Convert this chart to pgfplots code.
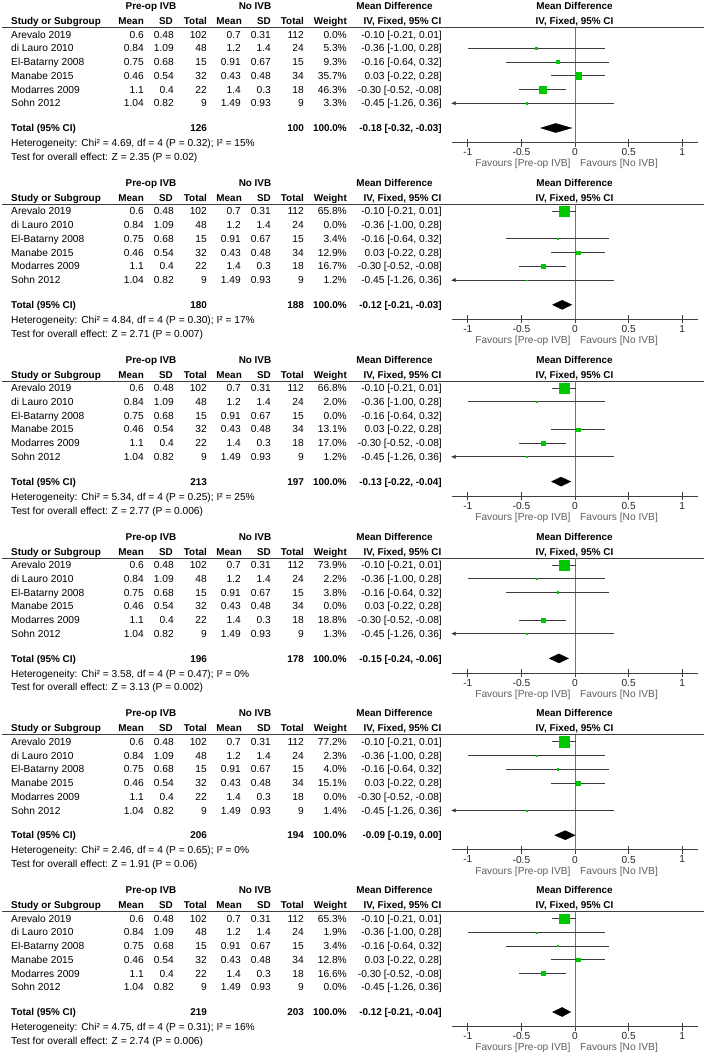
\documentclass[border=0pt]{standalone}
\usepackage{fontspec}
\setmainfont{Liberation Sans}
\usepackage{pgfplots}
\pgfplotsset{compat=1.18}
\usepackage{pgfplotstable}
\usetikzlibrary{arrows.meta}

\definecolor{sqgreen}{RGB}{0,200,0}
\definecolor{cigray}{RGB}{60,60,60}
\definecolor{favgray}{RGB}{95,95,95}

% included studies per panel: row position (px below panel top), MD, CI, weight
\pgfplotstableread{
y md lo hi w
-48.25 -0.36 -1.00 0.28 5.3
-62 -0.16 -0.64 0.32 9.3
-75.75 0.03 -0.22 0.28 35.7
-89.5 -0.30 -0.52 -0.08 46.3
-103.25 -0.45 -1.26 0.36 3.3
}\pA
\pgfplotstableread{
y md lo hi w
-34.5 -0.10 -0.21 0.01 65.8
-62 -0.16 -0.64 0.32 3.4
-75.75 0.03 -0.22 0.28 12.9
-89.5 -0.30 -0.52 -0.08 16.7
-103.25 -0.45 -1.26 0.36 1.2
}\pB
\pgfplotstableread{
y md lo hi w
-34.5 -0.10 -0.21 0.01 66.8
-48.25 -0.36 -1.00 0.28 2.0
-75.75 0.03 -0.22 0.28 13.1
-89.5 -0.30 -0.52 -0.08 17.0
-103.25 -0.45 -1.26 0.36 1.2
}\pC
\pgfplotstableread{
y md lo hi w
-34.5 -0.10 -0.21 0.01 73.9
-48.25 -0.36 -1.00 0.28 2.2
-62 -0.16 -0.64 0.32 3.8
-89.5 -0.30 -0.52 -0.08 18.8
-103.25 -0.45 -1.26 0.36 1.3
}\pD
\pgfplotstableread{
y md lo hi w
-34.5 -0.10 -0.21 0.01 77.2
-48.25 -0.36 -1.00 0.28 2.3
-62 -0.16 -0.64 0.32 4.0
-75.75 0.03 -0.22 0.28 15.1
-103.25 -0.45 -1.26 0.36 1.4
}\pE
\pgfplotstableread{
y md lo hi w
-34.5 -0.10 -0.21 0.01 65.3
-48.25 -0.36 -1.00 0.28 1.9
-62 -0.16 -0.64 0.32 3.4
-75.75 0.03 -0.22 0.28 12.8
-89.5 -0.30 -0.52 -0.08 16.6
}\pF

\pgfplotsset{
  forest/.style={anchor=south west, scale only axis, width=246.6pt, height=115pt,
    xmin=-1.15, xmax=1.15, ymin=-142.5, ymax=-27.5,
    axis x line*=bottom, axis y line=none, ytick=\empty,
    xtick={-1,-0.5,0,0.5,1}, xticklabels={-1,-0.5,0,0.5,1},
    tick align=center, major tick length=8pt,
    axis line style={black!75, line width=0.8pt},
    every tick/.style={black!75, line width=0.8pt},
    xticklabel style={inner sep=0pt, anchor=north, yshift=-2pt, text=black!85}},
  zero/.style={black!55, line width=0.8pt},
  ci/.style={draw=none, no markers, error bars/.cd, x dir=both, x explicit,
    error mark=none, error bar style={draw=cigray, line width=0.8pt}},
  sq/.style={scatter, only marks, mark=square*,
    scatter/use mapped color={draw=sqgreen, fill=sqgreen},
    visualization depends on={0.31*pow(\thisrow{w},0.65) \as \hs},
    scatter/@pre marker code/.append style={/tikz/mark size=\hs pt}},
  arr/.style={cigray, line width=0.8pt, -{Triangle[length=4pt,width=4pt]}},
  dia/.style={fill=black, draw=black, line width=0.3pt},
}

\tikzset{t/.style={inner sep=0pt},
  hb/.style={inner sep=0pt, font=\fontsize{9.9pt}{12pt}\selectfont\bfseries}}

% #1 offset, #2 weights, #3 N pre-op, #4 N no IVB, #5 total MD, #6 heterogeneity, #7 overall test
\newcommand{\panel}[7]{%
\begin{scope}[x=1pt, y=-1pt, shift={(0,#1)}]
  \node[hb, anchor=base] at (151,9.6) {Pre-op IVB};
  \node[hb, anchor=base] at (255,9.6) {No IVB};
  \node[hb, anchor=base] at (394.5,9.6) {Mean Difference};
  \node[hb, anchor=base] at (574.5,9.6) {Mean Difference};
  \node[hb, anchor=base west] at (11,24.6) {Study or Subgroup};
  \node[hb, anchor=base east] at (144,24.6) {Mean};
  \node[hb, anchor=base east] at (173,24.6) {SD};
  \node[hb, anchor=base east] at (207,24.6) {Total};
  \node[hb, anchor=base east] at (242,24.6) {Mean};
  \node[hb, anchor=base east] at (271,24.6) {SD};
  \node[hb, anchor=base east] at (304,24.6) {Total};
  \node[hb, anchor=base east] at (347,24.6) {Weight};
  \node[hb, anchor=base] at (402.5,24.6) {IV, Fixed, 95\% CI};
  \node[hb, anchor=base] at (574.5,24.6) {IV, Fixed, 95\% CI};
  \draw[black!75, line width=0.8pt] (2,27.5) -- (704,27.5);
  \foreach \nm/\ma/\sa/\na/\mb/\sb/\nb/\md [count=\i from 0] in {
    Arevalo 2019/0.6/0.48/102/0.7/0.31/112/{-0.10 [-0.21, 0.01]},
    di Lauro 2010/0.84/1.09/48/1.2/1.4/24/{-0.36 [-1.00, 0.28]},
    El-Batarny 2008/0.75/0.68/15/0.91/0.67/15/{-0.16 [-0.64, 0.32]},
    Manabe 2015/0.46/0.54/32/0.43/0.48/34/{0.03 [-0.22, 0.28]},
    Modarres 2009/1.1/0.4/22/1.4/0.3/18/{-0.30 [-0.52, -0.08]},
    Sohn 2012/1.04/0.82/9/1.49/0.93/9/{-0.45 [-1.26, 0.36]}}{
    \pgfmathsetmacro\yy{38.1+13.75*\i}
    \node[t, anchor=base west] at (11,\yy) {\nm};
    \node[t, anchor=base east] at (144,\yy) {\ma};
    \node[t, anchor=base east] at (174,\yy) {\sa};
    \node[t, anchor=base east] at (207,\yy) {\na};
    \node[t, anchor=base east] at (241,\yy) {\mb};
    \node[t, anchor=base east] at (271,\yy) {\sb};
    \node[t, anchor=base east] at (304,\yy) {\nb};
    \node[t, anchor=base east] at (442,\yy) {\md};
  }
  \foreach \w [count=\i from 0] in {#2}{
    \pgfmathsetmacro\yy{38.1+13.75*\i}
    \node[t, anchor=base east] at (347,\yy) {\w\%};
  }
  \node[hb, anchor=base west] at (11,131.6) {Total (95\% CI)};
  \node[hb, anchor=base east] at (207,131.6) {#3};
  \node[hb, anchor=base east] at (304,131.6) {#4};
  \node[hb, anchor=base east] at (347,131.6) {100.0\%};
  \node[hb, anchor=base east] at (442,131.6) {#5};
  \node[t, anchor=base west] at (11,146.6) {Heterogeneity: #6};
  \node[t, anchor=base west] at (11,160.4) {Test for overall effect: #7};
  \node[t, text=favgray, anchor=base east] at (570.7,166.9) {Favours [Pre-op IVB]};
  \node[t, text=favgray, anchor=base west] at (580,166.9) {Favours [No IVB]};
\end{scope}}

\begin{document}
\fontsize{10.2pt}{12pt}\selectfont
\begin{tikzpicture}
\path[use as bounding box] (0,0) rectangle (710pt,-1055pt);

% panel 1
\panel{0}{0.0,5.3,9.3,35.7,46.3,3.3}{126}{100}{-0.18 [-0.32, -0.03]}%
  {Chi² = 4.69, df = 4 (P = 0.32); I² = 15\%}{Z = 2.35 (P = 0.02)}
\begin{axis}[forest, at={(451.7pt,-142.5pt)}]
  \addplot[zero] coordinates {(0,-27.5) (0,-142.5)};
  \addplot[ci] table[x=md, y=y, x error minus expr=\thisrow{md}-\thisrow{lo}, x error plus expr=\thisrow{hi}-\thisrow{md}] {\pA};
  \addplot[sq] table[x=md, y=y] {\pA};
  \addplot[arr] coordinates {(-1.0,-103.25) (-1.15,-103.25)};
  \addplot[dia] coordinates {(-0.32,-128) (-0.18,-123.4) (-0.03,-128) (-0.18,-132.6) (-0.32,-128)};
\end{axis}

% panel 2
\panel{176.8}{65.8,0.0,3.4,12.9,16.7,1.2}{180}{188}{-0.12 [-0.21, -0.03]}%
  {Chi² = 4.84, df = 4 (P = 0.30); I² = 17\%}{Z = 2.71 (P = 0.007)}
\begin{axis}[forest, at={(451.7pt,-319.3pt)}]
  \addplot[zero] coordinates {(0,-27.5) (0,-142.5)};
  \addplot[ci] table[x=md, y=y, x error minus expr=\thisrow{md}-\thisrow{lo}, x error plus expr=\thisrow{hi}-\thisrow{md}] {\pB};
  \addplot[sq] table[x=md, y=y] {\pB};
  \addplot[arr] coordinates {(-1.0,-103.25) (-1.15,-103.25)};
  \addplot[dia] coordinates {(-0.21,-128) (-0.12,-123.4) (-0.03,-128) (-0.12,-132.6) (-0.21,-128)};
\end{axis}

% panel 3
\panel{353.6}{66.8,2.0,0.0,13.1,17.0,1.2}{213}{197}{-0.13 [-0.22, -0.04]}%
  {Chi² = 5.34, df = 4 (P = 0.25); I² = 25\%}{Z = 2.77 (P = 0.006)}
\begin{axis}[forest, at={(451.7pt,-496.1pt)}]
  \addplot[zero] coordinates {(0,-27.5) (0,-142.5)};
  \addplot[ci] table[x=md, y=y, x error minus expr=\thisrow{md}-\thisrow{lo}, x error plus expr=\thisrow{hi}-\thisrow{md}] {\pC};
  \addplot[sq] table[x=md, y=y] {\pC};
  \addplot[arr] coordinates {(-1.0,-103.25) (-1.15,-103.25)};
  \addplot[dia] coordinates {(-0.22,-128) (-0.13,-123.4) (-0.04,-128) (-0.13,-132.6) (-0.22,-128)};
\end{axis}

% panel 4
\panel{530.4}{73.9,2.2,3.8,0.0,18.8,1.3}{196}{178}{-0.15 [-0.24, -0.06]}%
  {Chi² = 3.58, df = 4 (P = 0.47); I² = 0\%}{Z = 3.13 (P = 0.002)}
\begin{axis}[forest, at={(451.7pt,-672.9pt)}]
  \addplot[zero] coordinates {(0,-27.5) (0,-142.5)};
  \addplot[ci] table[x=md, y=y, x error minus expr=\thisrow{md}-\thisrow{lo}, x error plus expr=\thisrow{hi}-\thisrow{md}] {\pD};
  \addplot[sq] table[x=md, y=y] {\pD};
  \addplot[arr] coordinates {(-1.0,-103.25) (-1.15,-103.25)};
  \addplot[dia] coordinates {(-0.24,-128) (-0.15,-123.4) (-0.06,-128) (-0.15,-132.6) (-0.24,-128)};
\end{axis}

% panel 5
\panel{707.2}{77.2,2.3,4.0,15.1,0.0,1.4}{206}{194}{-0.09 [-0.19, 0.00]}%
  {Chi² = 2.46, df = 4 (P = 0.65); I² = 0\%}{Z = 1.91 (P = 0.06)}
\begin{axis}[forest, at={(451.7pt,-849.7pt)}]
  \addplot[zero] coordinates {(0,-27.5) (0,-142.5)};
  \addplot[ci] table[x=md, y=y, x error minus expr=\thisrow{md}-\thisrow{lo}, x error plus expr=\thisrow{hi}-\thisrow{md}] {\pE};
  \addplot[sq] table[x=md, y=y] {\pE};
  \addplot[arr] coordinates {(-1.0,-103.25) (-1.15,-103.25)};
  \addplot[dia] coordinates {(-0.19,-128) (-0.09,-123.4) (0.00,-128) (-0.09,-132.6) (-0.19,-128)};
\end{axis}

% panel 6
\panel{884}{65.3,1.9,3.4,12.8,16.6,0.0}{219}{203}{-0.12 [-0.21, -0.04]}%
  {Chi² = 4.75, df = 4 (P = 0.31); I² = 16\%}{Z = 2.74 (P = 0.006)}
\begin{axis}[forest, at={(451.7pt,-1026.5pt)}]
  \addplot[zero] coordinates {(0,-27.5) (0,-142.5)};
  \addplot[ci] table[x=md, y=y, x error minus expr=\thisrow{md}-\thisrow{lo}, x error plus expr=\thisrow{hi}-\thisrow{md}] {\pF};
  \addplot[sq] table[x=md, y=y] {\pF};
  \addplot[dia] coordinates {(-0.21,-128) (-0.12,-123.4) (-0.04,-128) (-0.12,-132.6) (-0.21,-128)};
\end{axis}
\end{tikzpicture}
\end{document}
